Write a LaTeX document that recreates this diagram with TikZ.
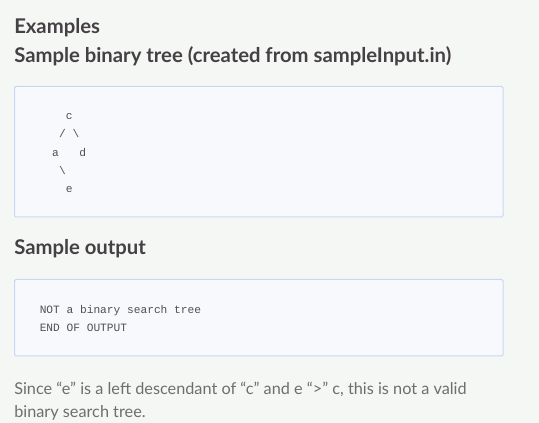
\documentclass[tikz,border=0pt]{standalone}
\usepackage{fontspec}
\setmainfont{Lato}
\setmonofont{Liberation Mono}
\definecolor{pagebg}{HTML}{F4F7F4}
\definecolor{boxfill}{HTML}{F8F9FC}
\definecolor{boxline}{HTML}{C9D7F5}
\definecolor{headtext}{HTML}{444044}
\definecolor{codetext}{HTML}{505050}
\definecolor{paratext}{HTML}{6E6E6E}

\begin{document}
\begin{tikzpicture}[x=0.75pt,y=-0.75pt,
    heading/.style={anchor=base west,inner sep=0pt,text=headtext,font=\fontsize{15.2}{18}\selectfont\bfseries},
    codebox/.style={draw=boxline,fill=boxfill,line width=0.75pt,rounded corners=1pt},
    code/.style={anchor=base,inner sep=0pt,text=codetext,font=\ttfamily\fontsize{8.4}{10}\selectfont},
    line/.style={anchor=base west,inner sep=0pt,text=codetext,font=\ttfamily\fontsize{8.4}{10}\selectfont},
    para/.style={anchor=base west,inner sep=0pt,text=paratext,font=\fontsize{12.2}{14}\selectfont}]
    \fill[pagebg] (0,0) rectangle (539,423);
    \useasboundingbox (0,0) rectangle (539,423);
    \node[heading] (examples) at (14,33.7) {Examples};
    \node[heading] (sample) at (14,63) {Sample binary tree (created from sampleInput.in)};
    \draw[codebox] (14.5,86.5) rectangle (503,217);
    \node[code] (c) at (69.2,119.5) {c};
    \node[code] (l1) at (62.4,137.8) {/};
    \node[code] (r1) at (76,137.8) {\textbackslash};
    \node[code] (a) at (55.6,156.1) {a};
    \node[code] (d) at (82.8,156.1) {d};
    \node[code] (r2) at (62.4,174.4) {\textbackslash};
    \node[code] (e) at (69.2,192.7) {e};
    \node[heading] (output) at (14,255) {Sample output};
    \draw[codebox] (14.5,279.5) rectangle (503,356);
    \node[line] (out1) at (39.5,313.7) {NOT a binary search tree};
    \node[line] (out2) at (39.5,331.8) {END OF OUTPUT};
    \node[para] (why1) at (14,394.4) {Since “e” is a left descendant of “c” and e “>” c, this is not a valid};
    \node[para] (why2) at (14,418) {binary search tree.};
\end{tikzpicture}
\end{document}
